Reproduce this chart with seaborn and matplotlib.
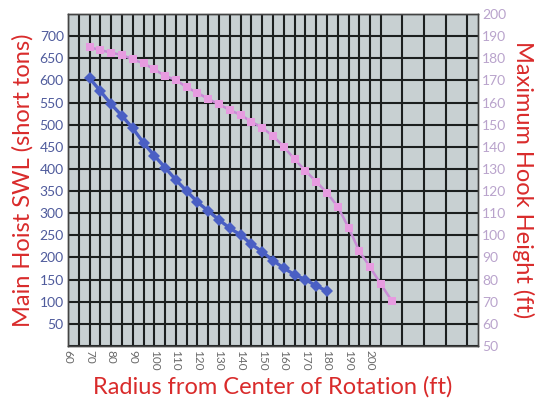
import matplotlib
matplotlib.use("Agg")
import matplotlib.pyplot as plt
import seaborn as sns
import numpy as np
import pandas as pd

# Data
swl_radius = [70, 75, 80, 85, 90, 95, 100, 105, 110, 115, 120, 125, 130, 135,
              140, 145, 150, 155, 160, 165, 170, 175, 180]
swl_tons = [605, 576, 546, 520, 492, 459, 430, 403, 375, 350, 325, 305, 285, 266,
            251, 230, 213, 193, 176, 161, 150, 136, 124]
hook_radius = [70, 75, 80, 85, 90, 95, 100, 105, 110, 115, 120, 125, 130, 135,
               140, 145, 150, 155, 160, 165, 170, 175, 180, 185, 190, 195, 200, 205, 210]
hook_height = [185, 183.7, 182.5, 181.5, 179.5, 177.7, 175, 172, 170.2, 166.9, 164.4,
               161.6, 159.2, 156.6, 154.4, 151.3, 148.6, 144.9, 140, 134.4, 129.2,
               124.3, 119.2, 113, 103.5, 92.9, 85.6, 77.9, 70.5]
x_ticks = [60, 70, 80, 90, 100, 110, 120, 130, 140, 150, 160, 170, 180, 190, 200]
left_ticks = [50, 100, 150, 200, 250, 300, 350, 400, 450, 500, 550, 600, 650, 700]
right_ticks = [50, 60, 70, 80, 90, 100, 110, 120, 130, 140, 150, 160, 170, 180, 190, 200]

sns.set_style("white")
plt.rcParams['font.family'] = ['Lato', 'DejaVu Sans']

fig = plt.figure(figsize=(5.47, 4.0), dpi=100)
ax = fig.add_axes([68/547, 54/400, 410/547, 332/400])
ax.set_facecolor("#c8d0d2")
ax2 = ax.twinx()

df1 = pd.DataFrame({"r": swl_radius, "v": swl_tons})
df2 = pd.DataFrame({"r": hook_radius, "v": hook_height})
sns.lineplot(data=df1, x="r", y="v", ax=ax, color="#4a5fc4", linewidth=2.4,
             marker="D", markersize=6, markeredgewidth=0, markerfacecolor="#4a5fc4")
sns.lineplot(data=df2, x="r", y="v", ax=ax2, color="#c98cd6", linewidth=1.8,
             marker="s", markersize=6, markeredgewidth=0, markerfacecolor="#e79be0")

ax.set_xlim(60, 250)
ax.set_ylim(0, 750)
ax2.set_ylim(50, 200)

ax.set_xticks(x_ticks)
ax.set_xticklabels([str(t) for t in x_ticks], rotation=-90, fontsize=8.5, color="#6a6a6a")
ax.set_yticks(left_ticks)
ax.set_yticklabels([str(t) for t in left_ticks], fontsize=10, color="#4f5b9c")
ax2.set_yticks(right_ticks)
ax2.set_yticklabels([str(t) for t in right_ticks], fontsize=10, color="#b9a3cc")
ax.set_xticks(np.arange(65, 251, 10), minor=True)
ax.set_yticks([0, 750], minor=True)
ax.grid(which="both", color="#1c1f1f", linewidth=1.5)
ax.set_axisbelow(True)
ax.tick_params(axis="both", which="both", length=0, pad=3)
ax2.tick_params(axis="both", which="both", length=0, pad=3)

ax.set_xlabel("Radius from Center of Rotation (ft)", fontsize=17, color="#d92b2b", labelpad=4)
ax.set_ylabel("Main Hoist SWL (short tons)", fontsize=17, color="#d92b2b", labelpad=4)
ax2.set_ylabel("Maximum Hook Height (ft)", fontsize=17, color="#d92b2b", rotation=-90, labelpad=20)

for a in (ax, ax2):
    for s in a.spines.values():
        s.set_visible(True)
        s.set_color("#444444")
        s.set_linewidth(1.0)

fig.savefig("out.png", dpi=100)
